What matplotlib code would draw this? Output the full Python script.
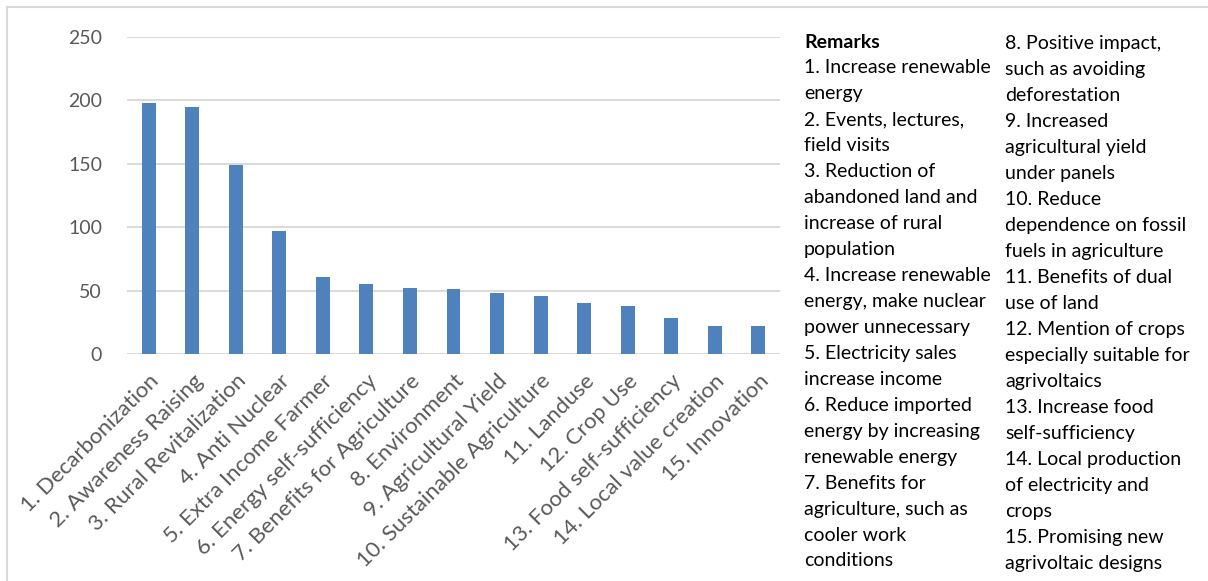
import matplotlib
matplotlib.use("Agg")
import matplotlib.pyplot as plt
from matplotlib.lines import Line2D

CATEGORIES = [
    "1. Decarbonization", "2. Awareness Raising", "3. Rural Revitalization",
    "4. Anti Nuclear", "5. Extra Income Farmer", "6. Energy self-sufficiency",
    "7. Benefits for Agriculture", "8. Environment", "9. Agricultural Yield",
    "10. Sustainable Agriculture", "11. Landuse", "12. Crop Use",
    "13. Food self-sufficiency", "14. Local value creation", "15. Innovation",
]
COUNTS = [198, 195, 149, 97, 61, 55, 52, 51, 48, 46, 40, 38, 28, 22, 22]
Y_TICKS = [0, 50, 100, 150, 200, 250]

REMARKS_LEFT = [
    "1. Increase renewable\nenergy",
    "2. Events, lectures,\nfield visits",
    "3. Reduction of\nabandoned land and\nincrease of rural\npopulation",
    "4. Increase renewable\nenergy, make nuclear\npower unnecessary",
    "5. Electricity sales\nincrease income",
    "6. Reduce imported\nenergy by increasing\nrenewable energy",
    "7. Benefits for\nagriculture, such as\ncooler work\nconditions",
]
REMARKS_RIGHT = [
    "8. Positive impact,\nsuch as avoiding\ndeforestation",
    "9. Increased\nagricultural yield\nunder panels",
    "10. Reduce\ndependence on fossil\nfuels in agriculture",
    "11. Benefits of dual\nuse of land",
    "12. Mention of crops\nespecially suitable for\nagrivoltaics",
    "13. Increase food\nself-sufficiency",
    "14. Local production\nof electricity and\ncrops",
    "15. Promising new\nagrivoltaic designs",
]

W, H = 1208, 581
FONT = ["Lato", "DejaVu Sans"]
TXT = "#595959"
BAR = "#4f81bd"
GRID = "#d9d9d9"

plt.rcParams["font.family"] = FONT

fig = plt.figure(figsize=(W / 100, H / 100), dpi=100)
fig.patch.set_facecolor("white")


def px(x, y):
    return x / W, 1 - y / H


# thin frame on top and left edges
fig.add_artist(Line2D([7 / W, 1], [1 - 7 / H] * 2, color=GRID, lw=1.5))
fig.add_artist(Line2D([7 / W] * 2, [0, 1 - 7 / H], color=GRID, lw=1.5))

left, right, top, bottom = 127, 780, 37, 354
ax = fig.add_axes([left / W, 1 - bottom / H, (right - left) / W, (bottom - top) / H])

x = range(len(CATEGORIES))
ax.bar(x, COUNTS, width=0.32, color=BAR, zorder=3)
ax.set_xlim(-0.5, len(CATEGORIES) - 0.5)
ax.set_ylim(0, 250)
ax.set_yticks(Y_TICKS)
ax.yaxis.grid(True, color=GRID, lw=1.4, zorder=0)
for s in ax.spines.values():
    s.set_visible(False)
ax.axhline(0, color=GRID, lw=1.4, zorder=2)
ax.tick_params(axis="both", length=0, colors=TXT)
ax.tick_params(axis="y", labelsize=14, pad=18)
ax.set_xticks(list(x))
ax.set_xticklabels(CATEGORIES, rotation=45, ha="right", rotation_mode="anchor",
                   fontsize=16, color=TXT)
ax.tick_params(axis="x", pad=12)

# remarks in two columns, one text object per line
line_h = 25.95


def column(lines, x0, y0):
    for i, ln in enumerate(lines):
        bold = ln == "Remarks"
        fig.text(*px(x0, y0 + i * line_h), ln, ha="left", va="center",
                 fontsize=14, color="black", fontweight="bold" if bold else "normal")


left_lines = ["Remarks"] + [l for r in REMARKS_LEFT for l in r.split("\n")]
right_lines = [l for r in REMARKS_RIGHT for l in r.split("\n")]
column(left_lines, 804, 42)
column(right_lines, 1005, 44)

fig.savefig("out.png", dpi=100)
